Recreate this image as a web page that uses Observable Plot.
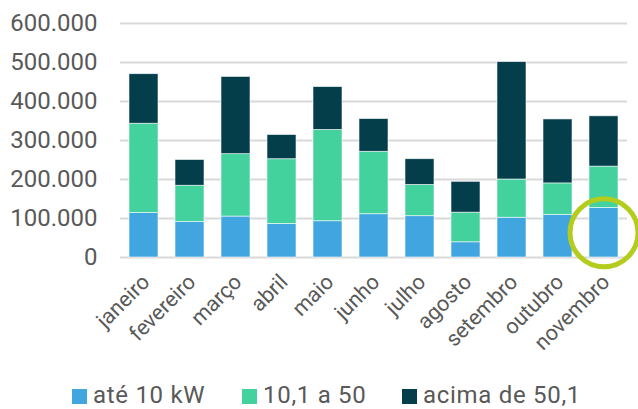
<!DOCTYPE html>
<html>
<head>
<meta charset="utf-8">
<script src="https://cdn.jsdelivr.net/npm/d3@7"></script>
<script src="https://cdn.jsdelivr.net/npm/@observablehq/plot@0.6"></script>
<style>
  html, body { margin: 0; padding: 0; background: #fff; }
  body { width: 638px; height: 409px; overflow: hidden; font-family: Roboto, sans-serif; }
  #legend { display: flex; align-items: center; margin-left: 72px; margin-top: 25px; height: 28px; line-height: 28px; color: #595959; font-size: 24px; letter-spacing: 0.7px; }
  #legend .item { display: flex; align-items: center; }
  #legend .item:nth-child(1) { width: 170px; }
  #legend .item:nth-child(2) { width: 160px; }
  #legend .sw { width: 15px; height: 15px; margin-right: 6px; position: relative; top: 1px; }
</style>
</head>
<body>
<div id="chart"></div>
<div id="legend"></div>
<script>
const months = ["janeiro","fevereiro","março","abril","maio","junho","julho","agosto","setembro","outubro","novembro"];
const ate10   = [114000, 91000, 105000, 86000, 93000, 111000, 106000, 39000, 102000, 109000, 127000];
const de10a50 = [229000, 93000, 160000, 166000, 234000, 160000, 80000, 76000, 98000, 81000, 106000];
const acima50 = [127000, 66000, 198000, 62000, 110000, 84000, 66000, 79000, 301000, 164000, 129000];
const seriesNames = ["até 10 kW", "10,1 a 50", "acima de 50,1"];
const seriesColors = ["#41a6e0", "#43d19e", "#033e4a"];
const yTicks = [0, 100000, 200000, 300000, 400000, 500000, 600000];
const highlightMonth = "novembro";

const seriesValues = [ate10, de10a50, acima50];
const data = [];
seriesNames.forEach((s, si) => {
  months.forEach((m, mi) => data.push({month: m, series: s, value: seriesValues[si][mi]}));
});
const hi = months.indexOf(highlightMonth);
const highlight = [{month: highlightMonth, value: ate10[hi] / 2}];

const fmt = d => d3.format(",")(d).replace(/,/g, ".");

const H = 356;
const chart = Plot.plot({
  width: 638,
  height: H,
  marginLeft: 120,
  marginRight: 11,
  marginTop: 23,
  marginBottom: H - 257,
  style: {fontFamily: "Roboto, sans-serif", color: "#595959", background: "#fff", overflow: "visible"},
  x: {domain: months, paddingInner: 0.372, paddingOuter: 0.173},
  y: {domain: [0, 600000]},
  color: {domain: seriesNames, range: seriesColors},
  marks: [
    Plot.ruleY(yTicks, {stroke: "#d9d9d9", strokeWidth: 2}),
    Plot.barY(data, {x: "month", y: "value", fill: "series", stroke: "#ffffff", strokeWidth: 0.8, strokeOpacity: 0.7}),
    Plot.dot(highlight, {x: "month", y: "value", r: 34, stroke: "#b4cc1e", strokeWidth: 5, fill: "none"}),
    Plot.axisY({ticks: yTicks, tickFormat: fmt, tickSize: 0, tickPadding: 23, fontSize: 24, label: null}),
    Plot.axisX({tickRotate: -45, tickSize: 0, tickPadding: 21, fontSize: 21.5, label: null, dx: 2})
  ]
});
document.getElementById("chart").appendChild(chart);

const legend = document.getElementById("legend");
seriesNames.forEach((s, i) => {
  const item = document.createElement("div");
  item.className = "item";
  const sw = document.createElement("span");
  sw.className = "sw";
  sw.style.background = seriesColors[i];
  const t = document.createElement("span");
  t.textContent = s;
  item.appendChild(sw);
  item.appendChild(t);
  legend.appendChild(item);
});
</script>
</body>
</html>
